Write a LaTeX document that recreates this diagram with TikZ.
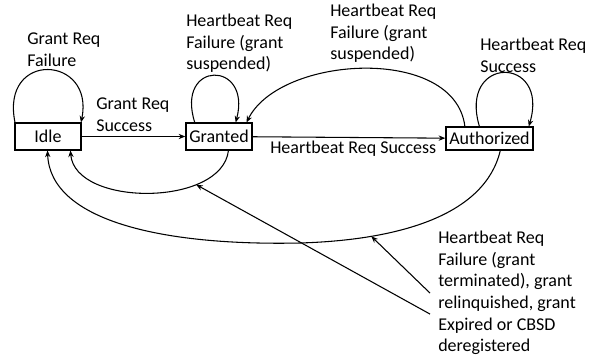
\documentclass[tikz,border=0pt]{standalone}
\usepackage{fontspec}
\setmainfont{Carlito}
\usetikzlibrary{arrows.meta}

\tikzset{
  state/.style={draw, line width=1pt, minimum width=49.5pt, minimum height=20pt,
                inner xsep=2.5pt, inner ysep=0pt},
  lbl/.style={anchor=north west, align=left, inner sep=0pt},
  flow/.style={line width=0.8pt, -{Stealth[length=5pt,width=4pt]}},
}

\begin{document}
\begin{tikzpicture}[x=0.75pt, y=-0.75pt, font=\fontsize{13.5}{16.2}\selectfont]
            \useasboundingbox (0, 0) rectangle (600, 360);

            % states
            \node[state] (idle) at (48, 136.5) {Idle};
            \node[state] (granted) at (219, 136.5) {Granted};
            \node[state, minimum height=17pt] (auth) at (489.5, 138.5) {Authorized};

            % labels
            \node[lbl] (idleloop) at (27, 33) {Grant Req\\Failure};
            \node[lbl] (grantok) at (96, 98) {Grant Req\\Success};
            \node[lbl] (susp1) at (186, 14) {Heartbeat Req\\Failure (grant\\suspended)};
            \node[lbl] (susp2) at (330, 4) {Heartbeat Req\\Failure (grant\\suspended)};
            \node[lbl] (authloop) at (480, 38) {Heartbeat Req\\Success};
            \node[lbl] (hbok) at (270, 141) {Heartbeat Req Success};
            \node[lbl] (lost) at (438, 231) {Heartbeat Req\\Failure (grant\\terminated), grant\\relinquished, grant\\Expired or CBSD\\deregistered};

            % transitions
            \draw[flow] (idle.157) .. controls (0, 50) and (95, 55) .. (idle.23);
            \draw[flow] (idle) -- (granted);
            \draw[flow] (granted.150) .. controls (175, 60) and (252, 60) .. (granted.40);
            \draw[flow] (granted) -- (auth);
            \draw[flow] (auth.130) .. controls (458, 55) and (550, 55) .. (auth.17);
            \draw[flow] (auth.154) .. controls (455, 45) and (280, 55) .. (granted.27);
            \draw[flow] (granted.304) .. controls (222, 207) and (75, 207)
                .. coordinate[pos=0.28] (hitG) (idle.328);
            \draw[flow] (auth.312) .. controls (485, 215) and (400, 240)
                .. coordinate[pos=0.75] (hitA) (300, 243)
                .. controls (160, 246) and (50, 220) .. (idle.268);

            % pointers from the note
            \draw[flow] ([xshift=-6pt]lost.west) -- (hitA);
            \draw[flow] ([xshift=-6pt, yshift=-15.75pt]lost.west) -- (hitG);
\end{tikzpicture}
\end{document}
